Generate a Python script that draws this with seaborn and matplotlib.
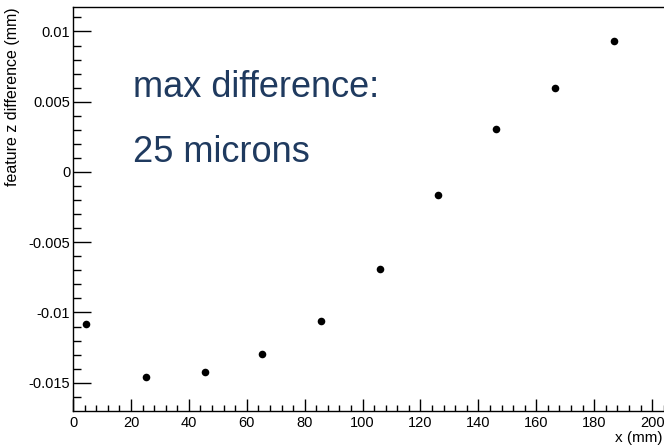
import matplotlib
matplotlib.use("Agg")
import matplotlib.pyplot as plt
import seaborn as sns
import pandas as pd
from matplotlib.ticker import MultipleLocator

# measured points (x in mm, z difference in mm)
x_mm = [4.5, 25.2, 45.5, 65.2, 85.5, 105.9, 125.9, 146.2, 166.6, 186.9]
z_diff = [-0.01082, -0.01459, -0.01424, -0.01296, -0.01061,
          -0.00691, -0.00164, 0.00306, 0.00598, 0.00935]

df = pd.DataFrame({"x": x_mm, "z": z_diff})

sns.set_theme(style="white")
plt.rcParams["font.family"] = ["Liberation Sans", "DejaVu Sans"]

fig = plt.figure(figsize=(6.64, 4.47), dpi=100)
ax = fig.add_axes([0.11, 0.0812, 0.89, 0.9031])

sns.scatterplot(data=df, x="x", y="z", ax=ax, color="black", s=30,
                edgecolor="black", linewidth=0, legend=False)

ax.set_xlim(0, 204.1)
ax.set_ylim(-0.01699, 0.01174)

ax.xaxis.set_major_locator(MultipleLocator(20))
ax.xaxis.set_minor_locator(MultipleLocator(4))
ax.yaxis.set_major_locator(MultipleLocator(0.005))
ax.yaxis.set_minor_locator(MultipleLocator(0.001))
ax.set_yticks([-0.015, -0.01, -0.005, 0, 0.005, 0.01])
ax.set_yticklabels(["-0.015", "-0.01", "-0.005", "0", "0.005", "0.01"])

ax.tick_params(axis="both", which="both", direction="in", color="black",
               labelsize=10.5, labelcolor="black", width=1)
ax.tick_params(axis="y", which="major", length=13, pad=2)
ax.tick_params(axis="y", which="minor", length=6)
ax.tick_params(axis="x", which="major", length=9, pad=4)
ax.tick_params(axis="x", which="minor", length=4.5)
ax.tick_params(left=True, bottom=True, which="both")

for side in ["left", "bottom", "top"]:
    ax.spines[side].set_visible(True)
    ax.spines[side].set_color("black")
    ax.spines[side].set_linewidth(1)
ax.spines["right"].set_visible(False)

ax.set_xlabel("x (mm)", fontsize=11, color="black", loc="right")
ax.xaxis.set_label_coords(0.998, -0.05)
ax.set_ylabel("feature z difference (mm)", fontsize=11.5, color="black", loc="top")
ax.yaxis.set_label_coords(-0.0905, 1.0)

ax.text(20.7, 0.0060, "max difference:", fontsize=26, color="#1f3a5f",
        va="center", ha="left")
ax.text(20.7, 0.0014, "25 microns", fontsize=26, color="#1f3a5f",
        va="center", ha="left")

fig.savefig("out.png", dpi=100)
